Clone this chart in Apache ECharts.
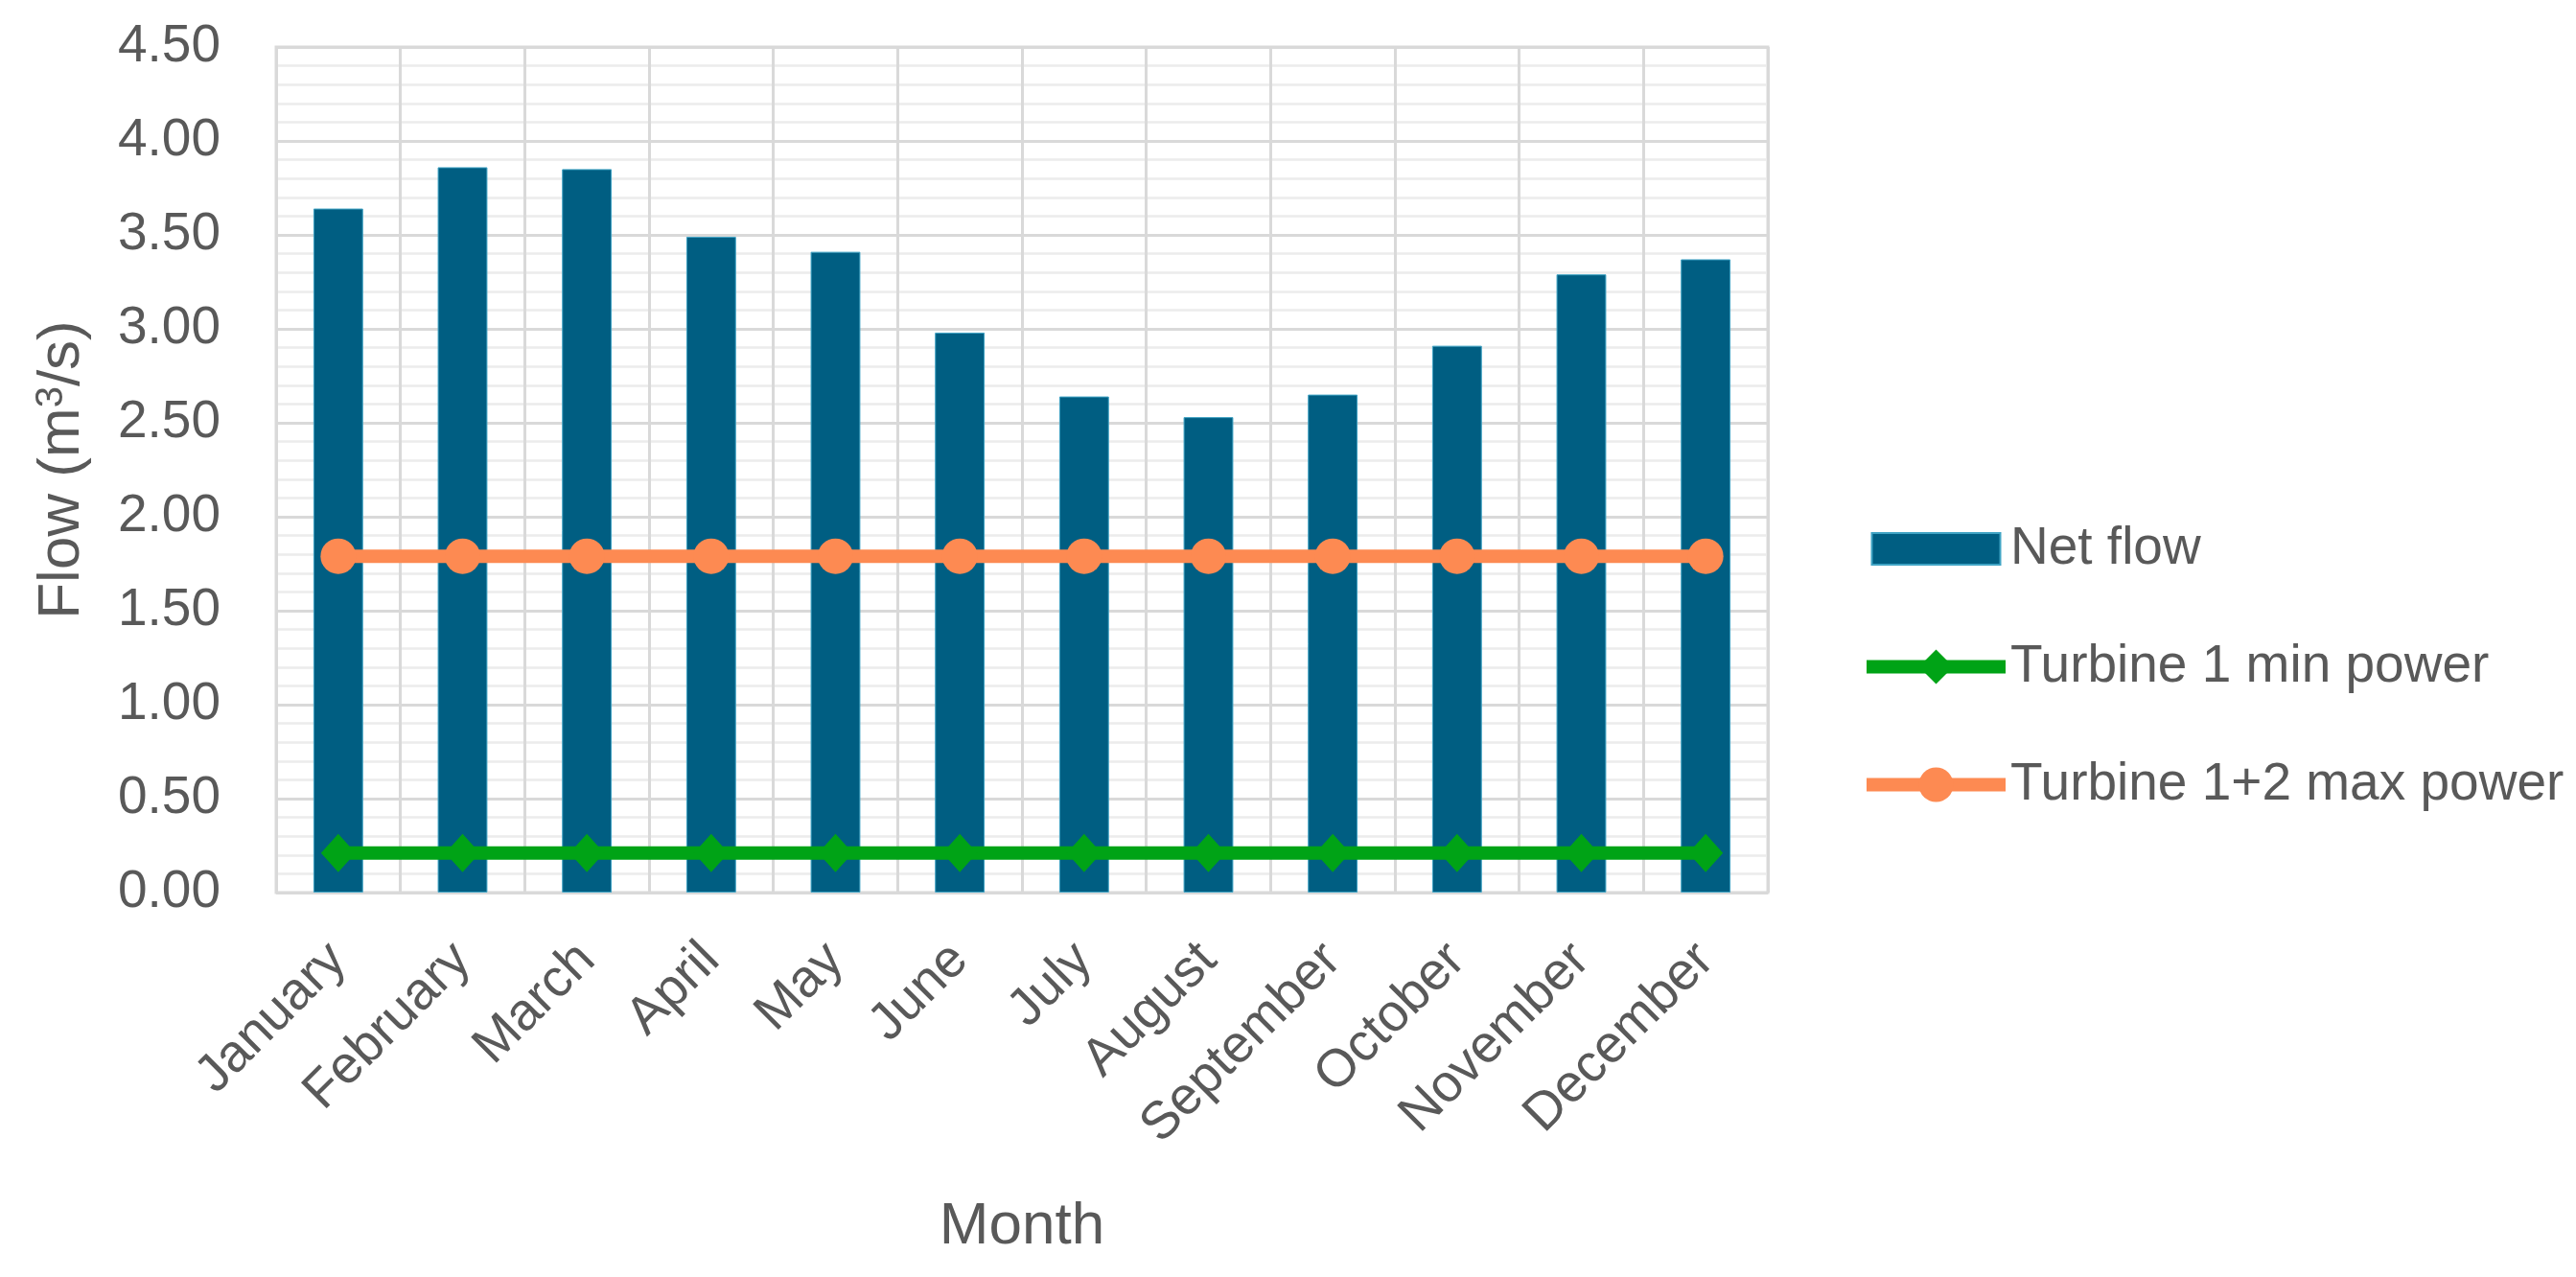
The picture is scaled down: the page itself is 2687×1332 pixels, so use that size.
<!DOCTYPE html>
<html>
<head>
<meta charset="utf-8">
<script src="https://cdn.jsdelivr.net/npm/echarts@6/dist/echarts.min.js"></script>
<style>
html,body{margin:0;padding:0;background:#fff;}
#chart{width:2687px;height:1332px;}
</style>
</head>
<body>
<div id="chart"></div>
<script>
const months = ['January','February','March','April','May','June','July','August','September','October','November','December'];
const netFlow = [3.64, 3.86, 3.85, 3.49, 3.41, 2.98, 2.64, 2.53, 2.65, 2.91, 3.29, 3.37];
const turbine1Min = [0.21, 0.21, 0.21, 0.21, 0.21, 0.21, 0.21, 0.21, 0.21, 0.21, 0.21, 0.21];
const turbine12Max = [1.79, 1.79, 1.79, 1.79, 1.79, 1.79, 1.79, 1.79, 1.79, 1.79, 1.79, 1.79];
const seriesNames = ['Net flow', 'Turbine 1 min power', 'Turbine 1+2 max power'];
const xTitle = 'Month';
const yTitle = 'Flow (m{sup|3}/s)';

const TXT = '#595959';
const FONT = 'Liberation Sans, Arial, sans-serif';
const chart = echarts.init(document.getElementById('chart'), null, {renderer: 'canvas'});
chart.setOption({
  animation: false,
  backgroundColor: '#ffffff',
  textStyle: {fontFamily: FONT, color: TXT},
  grid: {
    left: 288, right: 843, top: 49, bottom: 401,
    show: true, borderColor: '#d9d9d9', borderWidth: 3, backgroundColor: 'transparent'
  },
  legend: {
    orient: 'vertical',
    left: 1940,
    top: 545,
    padding: 0,
    itemWidth: 145,
    itemHeight: 45,
    itemGap: 68,
    textStyle: {fontSize: 55, color: TXT, fontFamily: FONT, lineHeight: 45},
    data: [
      {name: seriesNames[0], icon: 'path://M0,0M145,45M5.5,6h134v33h-134z'},
      {name: seriesNames[1], lineStyle: {width: 14}},
      {name: seriesNames[2], lineStyle: {width: 14}}
    ]
  },
  xAxis: {
    type: 'category',
    data: months,
    boundaryGap: true,
    axisLine: {show: false},
    axisTick: {show: false},
    axisLabel: {rotate: 45, fontSize: 55, color: TXT, margin: 62, interval: 0, fontFamily: FONT},
    splitLine: {show: true, interval: 0, lineStyle: {color: '#d9d9d9', width: 3}},
    name: xTitle,
    nameLocation: 'middle',
    nameGap: 318,
    nameTextStyle: {fontSize: 62, color: TXT, fontFamily: FONT}
  },
  yAxis: {
    type: 'value',
    min: 0, max: 4.5, interval: 0.5,
    axisLine: {show: false},
    axisTick: {show: false},
    axisLabel: {fontSize: 55, color: TXT, margin: 58, fontFamily: FONT, formatter: v => v.toFixed(2)},
    splitLine: {show: true, lineStyle: {color: '#d9d9d9', width: 3}},
    minorTick: {show: false, splitNumber: 5},
    minorSplitLine: {show: true, lineStyle: {color: '#ececec', width: 2.5}},
    name: yTitle,
    nameLocation: 'middle',
    nameRotate: 90,
    nameGap: 192,
    nameTextStyle: {
      fontSize: 62, color: TXT, fontFamily: FONT,
      rich: {sup: {fontSize: 40, color: TXT, fontFamily: FONT, verticalAlign: 'top'}}
    }
  },
  series: [
    {
      name: seriesNames[0], type: 'bar', data: netFlow, barWidth: '40%',
      itemStyle: {color: '#005e82', borderColor: '#3fa3c4', borderWidth: 1},
      z: 2
    },
    {
      name: seriesNames[1], type: 'line', data: turbine1Min,
      symbol: 'diamond', symbolSize: [36, 40],
      lineStyle: {color: '#00a316', width: 14},
      itemStyle: {color: '#00a316'},
      z: 3
    },
    {
      name: seriesNames[2], type: 'line', data: turbine12Max,
      symbol: 'circle', symbolSize: 37,
      lineStyle: {color: '#fd8a52', width: 14},
      itemStyle: {color: '#fd8a52'},
      z: 3
    }
  ]
});
</script>
</body>
</html>
